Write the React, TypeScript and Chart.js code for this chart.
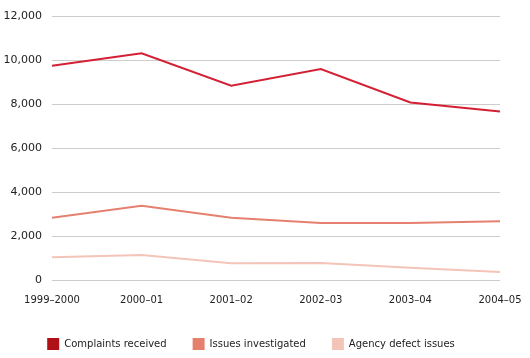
import React, { useEffect, useRef } from "react";
import { Chart, registerables } from "chart.js";

Chart.register(...registerables);

const categories = ["1999–2000", "2000–01", "2001–02", "2002–03", "2003–04", "2004–05"];
const complaintsReceived = [9760, 10330, 8850, 9610, 8090, 7680];
const issuesInvestigated = [2840, 3380, 2840, 2600, 2600, 2680];
const agencyDefectIssues = [1040, 1140, 760, 780, 560, 360];
const yTicks = [0, 2000, 4000, 6000, 8000, 10000, 12000];

const legendFix = {
  id: "legendFix",
  afterInit(chart: any) {
    const lg = chart.legend;
    if (!lg) return;
    const orig = lg.fit.bind(lg);
    lg.fit = function () {
      orig();
      this.height -= 10;
    };
  },
  afterLayout(chart: any) {
    const lg = chart.legend;
    if (!lg) return;
    lg.top -= 8;
  },
};

export default function App() {
  const ref = useRef<HTMLCanvasElement | null>(null);
  useEffect(() => {
    document.body.style.margin = "0";
    const ctx = ref.current!;
    const chart = new Chart(ctx, {
      type: "line",
      data: {
        labels: categories,
        datasets: [
          {
            label: "Complaints received",
            data: complaintsReceived,
            borderColor: "#d42035",
            backgroundColor: "#b01018",
            borderWidth: 2,
            pointRadius: 0,
            tension: 0,
          },
          {
            label: "Issues investigated",
            data: issuesInvestigated,
            borderColor: "#e5806f",
            backgroundColor: "#e5806f",
            borderWidth: 2,
            pointRadius: 0,
            tension: 0,
          },
          {
            label: "Agency defect issues",
            data: agencyDefectIssues,
            borderColor: "#f4c4b8",
            backgroundColor: "#f4c4b8",
            borderWidth: 2,
            pointRadius: 0,
            tension: 0,
          },
        ],
      },
      plugins: [legendFix],
      options: {
        animation: false,
        responsive: false,
        layout: { padding: { top: 8, right: 30, left: 2, bottom: 0 } },
        plugins: {
          tooltip: { enabled: false },
          legend: {
            position: "bottom",
            align: "center",
            labels: {
              boxWidth: 12,
              boxHeight: 12,
              padding: 26,
              color: "#222",
              font: { family: "DejaVu Sans", size: 10 },
              generateLabels: (c: any) =>
                c.data.datasets.map((d: any, i: number) => ({
                  text: d.label,
                  fillStyle: d.backgroundColor,
                  strokeStyle: d.backgroundColor,
                  lineWidth: 0,
                  datasetIndex: i,
                  fontColor: "#222",
                })),
            },
          },
        },
        scales: {
          x: {
            offset: false,
            grid: { display: false, drawTicks: false },
            border: { display: false },
            afterFit: (axis: any) => {
              axis.paddingRight = 0;
              axis.paddingLeft = 0;
            },
            ticks: {
              color: "#222",
              font: { family: "DejaVu Sans", size: 10 },
              padding: 14,
              maxRotation: 0,
            },
          },
          y: {
            min: 0,
            max: 12000,
            afterBuildTicks: (axis: any) => {
              axis.ticks = yTicks.map((v) => ({ value: v }));
            },
            afterFit: (axis: any) => {
              axis.width = 50;
            },
            grid: { color: "#cccccc", drawTicks: false, lineWidth: 1 },
            border: { display: false },
            ticks: {
              color: "#222",
              font: { family: "DejaVu Sans", size: 11 },
              padding: 10,
              callback: (v: any) => Number(v).toLocaleString("en-US"),
            },
          },
        },
      },
    });
    return () => chart.destroy();
  }, []);
  return (
    <div style={{ width: 530, height: 358 }}>
      <canvas ref={ref} width={530} height={358} />
    </div>
  );
}
